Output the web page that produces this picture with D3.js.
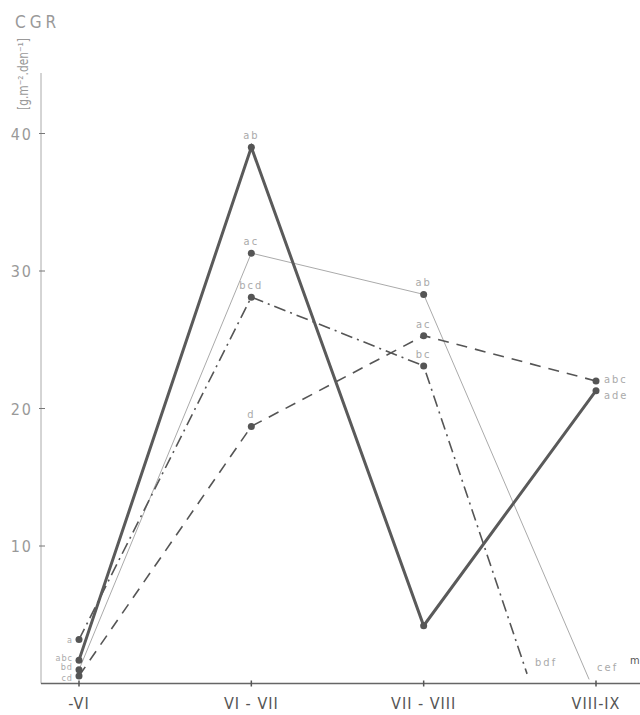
<!DOCTYPE html>
<html>
<head>
<meta charset="utf-8">
<script src="https://cdn.jsdelivr.net/npm/d3@7"></script>
<style>
  body { margin: 0; background: #fff; }
  text { font-family: "DejaVu Sans", sans-serif; font-stretch: condensed; }
</style>
</head>
<body>
<script>
// categories (months) and tick labels
const periods = ["-VI", "VI - VII", "VII - VIII", "VIII-IX"];
const yTicks = [10, 20, 30, 40];

// series: [period index, value, letters]
const thick = [[0, 1.7, "abc"], [1, 39.0, "ab"], [2, 4.2, ""], [3, 21.3, "ade"]];
const thin = [[0, 1.0, "bd"], [1, 31.3, "ac"], [2, 28.3, "ab"], [2.96, 0.3, "cef"]];
const dashDot = [[0, 3.2, "a"], [1, 28.1, "bcd"], [2, 23.1, "bc"], [2.6, 0.7, "bdf"]];
const dashed = [[0, 0.55, "cd"], [1, 18.7, "d"], [2, 25.3, "ac"], [3, 22.0, "abc"]];

const width = 640, height = 715;

const x = d3.scaleLinear([0, 3], [79, 596]);
const y = d3.scaleLinear([0, 44.4], [683.5, 73]);

const svg = d3.select("body").append("svg")
  .attr("width", width).attr("height", height);

// y axis
svg.append("line").attr("x1", 41).attr("x2", 41).attr("y1", y(44.4)).attr("y2", y(0))
  .attr("stroke", "#aaa").attr("stroke-width", 1);
svg.selectAll(".yt").data(yTicks).enter().append("line")
  .attr("x1", 39).attr("x2", 45).attr("y1", d => y(d)).attr("y2", d => y(d))
  .attr("stroke", "#777");
svg.selectAll(".yl").data(yTicks).enter().append("text")
  .attr("x", 33).attr("y", d => y(d) + 6)
  .attr("text-anchor", "end").attr("font-size", 16).attr("fill", "#999")
  .attr("letter-spacing", 2)
  .text(d => d);

svg.append("text").attr("x", 15).attr("y", 28).attr("font-size", 17)
  .attr("fill", "#999").attr("letter-spacing", 4).text("CGR");
svg.append("text").attr("transform", "translate(28,110) rotate(-90)")
  .attr("font-size", 14).attr("fill", "#999")
  .attr("textLength", 72).attr("lengthAdjust", "spacingAndGlyphs")
  .text("[g.m⁻².den⁻¹]");

// x axis
svg.append("line").attr("x1", 41).attr("x2", 640).attr("y1", y(0)).attr("y2", y(0))
  .attr("stroke", "#666").attr("stroke-width", 1.3);
svg.selectAll(".xt").data(periods).enter().append("line")
  .attr("x1", (d, i) => x(i)).attr("x2", (d, i) => x(i))
  .attr("y1", y(0) - 3).attr("y2", y(0) + 3)
  .attr("stroke", "#555").attr("stroke-width", 1.5);
svg.selectAll(".xl").data(periods).enter().append("text")
  .attr("x", (d, i) => x(i)).attr("y", 709)
  .attr("text-anchor", "middle").attr("font-size", 16).attr("fill", "#555")
  .attr("letter-spacing", 1)
  .text(d => d);
svg.append("text").attr("x", 630).attr("y", 664).attr("font-size", 11)
  .attr("fill", "#555").text("m");

const line = d3.line().x(d => x(d[0])).y(d => y(d[1]));

const series = [
  { data: thin, color: "#aaa", w: 1, dash: null },
  { data: dashed, color: "#555", w: 1.6, dash: "11,8" },
  { data: dashDot, color: "#555", w: 1.6, dash: "12,5,2,5" },
  { data: thick, color: "#5a5a5a", w: 3, dash: null }
];

// label offset for the stacked letters at -VI
const firstOffset = v => v < 0.8 ? 5.5 : v < 1.2 ? 0.5 : v < 2 ? 0.5 : 3;

series.forEach(s => {
  svg.append("path").datum(s.data).attr("d", line)
    .attr("fill", "none").attr("stroke", s.color)
    .attr("stroke-width", s.w).attr("stroke-dasharray", s.dash);
  // dots on the measured periods
  svg.selectAll(null).data(s.data.filter(d => Number.isInteger(d[0]))).enter()
    .append("circle")
    .attr("cx", d => x(d[0])).attr("cy", d => y(d[1]))
    .attr("r", 3.5).attr("fill", "#555");
  // letter labels
  svg.selectAll(null).data(s.data.filter(d => d[2])).enter().append("text")
    .attr("x", d => d[0] === 0 ? x(d[0]) - 6 : (d[0] >= 2.5 ? x(d[0]) + 8 : x(d[0])))
    .attr("y", d => {
      if (d[0] === 0) return y(d[1]) + firstOffset(d[1]);
      if (d[0] >= 2.5) {
        if (d[1] < 2) return y(d[1]) - 8;
        return y(d[1]) + (s.data === thick ? 8 : 2);
      }
      return y(d[1]) - 8;
    })
    .attr("text-anchor", d => d[0] === 0 ? "end" : (d[0] >= 2.5 ? "start" : "middle"))
    .attr("font-size", d => d[0] === 0 ? 9 : 11).attr("fill", "#aaa")
    .attr("letter-spacing", d => d[0] === 0 ? 1 : 2)
    .text(d => d[2]);
});
</script>
</body>
</html>
